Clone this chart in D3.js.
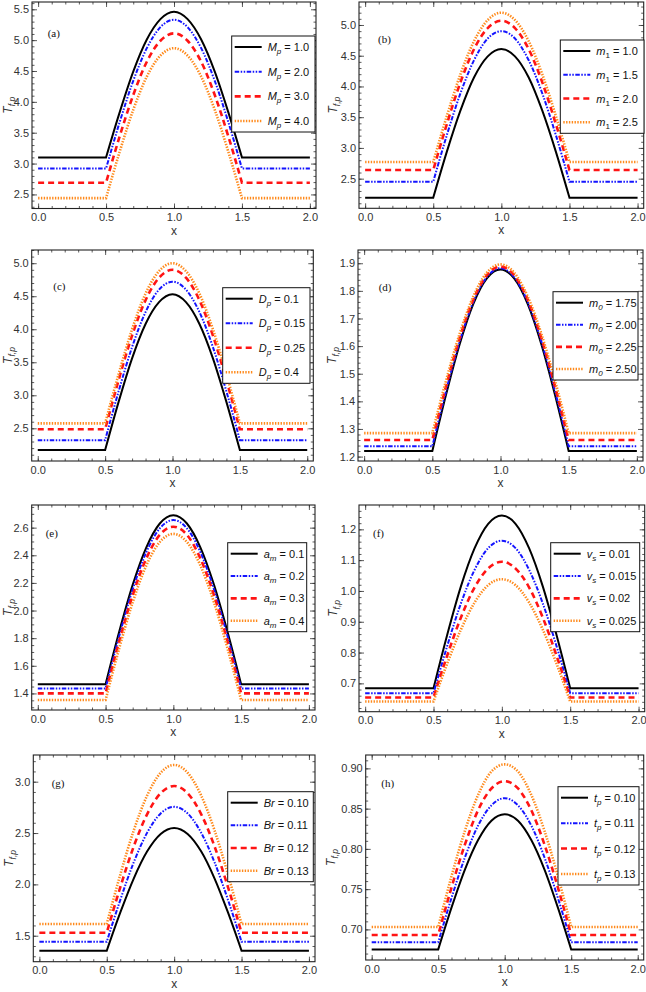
<!DOCTYPE html>
<html><head><meta charset="utf-8">
<script src="https://cdn.jsdelivr.net/npm/d3@7"></script>
<style>body{margin:0;background:#fff}</style>
</head><body>
<svg id="chart" width="646" height="992"></svg>
<script>
// ---------- DATA ----------
const xVals = [0, 0.5, 0.6, 0.7, 0.8, 0.9, 1.0, 1.1, 1.2, 1.3, 1.4, 1.5, 2.0];
const xTicks = [0, 0.5, 1.0, 1.5, 2.0];

const valuesA = [
 [3.10, 3.10, 3.83, 4.49, 5.01, 5.34, 5.46, 5.34, 5.01, 4.49, 3.83, 3.10, 3.10],
 [2.92, 2.92, 3.67, 4.34, 4.87, 5.21, 5.33, 5.21, 4.87, 4.34, 3.67, 2.92, 2.92],
 [2.69, 2.69, 3.44, 4.11, 4.65, 4.99, 5.11, 4.99, 4.65, 4.11, 3.44, 2.69, 2.69],
 [2.44, 2.44, 3.19, 3.87, 4.41, 4.75, 4.87, 4.75, 4.41, 3.87, 3.19, 2.44, 2.44]];
const valuesB = [
 [2.19, 2.19, 2.94, 3.61, 4.15, 4.49, 4.61, 4.49, 4.15, 3.61, 2.94, 2.19, 2.19],
 [2.45, 2.45, 3.21, 3.89, 4.43, 4.78, 4.90, 4.78, 4.43, 3.89, 3.21, 2.45, 2.45],
 [2.64, 2.64, 3.39, 4.07, 4.61, 4.95, 5.07, 4.95, 4.61, 4.07, 3.39, 2.64, 2.64],
 [2.77, 2.77, 3.52, 4.20, 4.74, 5.08, 5.20, 5.08, 4.74, 4.20, 3.52, 2.77, 2.77]];
const valuesC = [
 [2.17, 2.17, 2.90, 3.56, 4.08, 4.41, 4.53, 4.41, 4.08, 3.56, 2.90, 2.17, 2.17],
 [2.32, 2.32, 3.06, 3.73, 4.26, 4.60, 4.72, 4.60, 4.26, 3.73, 3.06, 2.32, 2.32],
 [2.485, 2.485, 3.23, 3.905, 4.44, 4.78, 4.90, 4.78, 4.44, 3.905, 3.23, 2.485, 2.485],
 [2.575, 2.575, 3.32, 4.00, 4.54, 4.88, 5.00, 4.88, 4.54, 4.00, 3.32, 2.575, 2.575]];
const valuesD = [
 [1.220, 1.220, 1.423, 1.606, 1.752, 1.845, 1.877, 1.845, 1.752, 1.606, 1.423, 1.220, 1.220],
 [1.237, 1.237, 1.436, 1.616, 1.759, 1.850, 1.882, 1.850, 1.759, 1.616, 1.436, 1.237, 1.237],
 [1.260, 1.260, 1.454, 1.629, 1.768, 1.857, 1.888, 1.857, 1.768, 1.629, 1.454, 1.260, 1.260],
 [1.285, 1.285, 1.474, 1.644, 1.779, 1.866, 1.896, 1.866, 1.779, 1.644, 1.474, 1.285, 1.285]];
const valuesE = [
 [1.467, 1.467, 1.845, 2.186, 2.456, 2.630, 2.690, 2.630, 2.456, 2.186, 1.845, 1.467, 1.467],
 [1.436, 1.436, 1.813, 2.153, 2.422, 2.595, 2.655, 2.595, 2.422, 2.153, 1.813, 1.436, 1.436],
 [1.400, 1.400, 1.773, 2.110, 2.376, 2.548, 2.607, 2.548, 2.376, 2.110, 1.773, 1.400, 1.400],
 [1.352, 1.352, 1.724, 2.059, 2.325, 2.496, 2.555, 2.496, 2.325, 2.059, 1.724, 1.352, 1.352]];
const valuesF = [
 [0.684, 0.684, 0.857, 1.014, 1.138, 1.218, 1.245, 1.218, 1.138, 1.014, 0.857, 0.684, 0.684],
 [0.668, 0.668, 0.821, 0.959, 1.068, 1.139, 1.163, 1.139, 1.068, 0.959, 0.821, 0.668, 0.668],
 [0.654, 0.654, 0.790, 0.913, 1.011, 1.073, 1.095, 1.073, 1.011, 0.913, 0.790, 0.654, 0.654],
 [0.641, 0.641, 0.764, 0.874, 0.962, 1.019, 1.038, 1.019, 0.962, 0.874, 0.764, 0.641, 0.641]];
const valuesG = [
 [1.354, 1.354, 1.724, 2.057, 2.322, 2.491, 2.550, 2.491, 2.322, 2.057, 1.724, 1.354, 1.354],
 [1.441, 1.441, 1.847, 2.214, 2.504, 2.691, 2.755, 2.691, 2.504, 2.214, 1.847, 1.441, 1.441],
 [1.529, 1.529, 1.971, 2.369, 2.685, 2.888, 2.958, 2.888, 2.685, 2.369, 1.971, 1.529, 1.529],
 [1.614, 1.614, 2.093, 2.525, 2.867, 3.087, 3.163, 3.087, 2.867, 2.525, 2.093, 1.614, 1.614]];
const valuesH = [
 [0.675, 0.675, 0.727, 0.774, 0.811, 0.835, 0.843, 0.835, 0.811, 0.774, 0.727, 0.675, 0.675],
 [0.684, 0.684, 0.739, 0.789, 0.829, 0.854, 0.863, 0.854, 0.829, 0.789, 0.739, 0.684, 0.684],
 [0.693, 0.693, 0.752, 0.805, 0.848, 0.875, 0.884, 0.875, 0.848, 0.805, 0.752, 0.693, 0.693],
 [0.703, 0.703, 0.766, 0.822, 0.867, 0.896, 0.905, 0.896, 0.867, 0.822, 0.766, 0.703, 0.703]];

const ticksA = [2.5, 3.0, 3.5, 4.0, 4.5, 5.0, 5.5];
const ticksB = [2.5, 3.0, 3.5, 4.0, 4.5, 5.0];
const ticksC = [2.5, 3.0, 3.5, 4.0, 4.5, 5.0];
const ticksD = [1.2, 1.3, 1.4, 1.5, 1.6, 1.7, 1.8, 1.9];
const ticksE = [1.4, 1.6, 1.8, 2.0, 2.2, 2.4, 2.6];
const ticksF = [0.7, 0.8, 0.9, 1.0, 1.1, 1.2];
const ticksG = [1.5, 2.0, 2.5, 3.0];
const ticksH = [0.70, 0.75, 0.80, 0.85, 0.90];

const legendA = ["1.0", "2.0", "3.0", "4.0"];
const legendB = ["1.0", "1.5", "2.0", "2.5"];
const legendC = ["0.1", "0.15", "0.25", "0.4"];
const legendD = ["1.75", "2.00", "2.25", "2.50"];
const legendE = ["0.1", "0.2", "0.3", "0.4"];
const legendF = ["0.01", "0.015", "0.02", "0.025"];
const legendG = ["0.10", "0.11", "0.12", "0.13"];
const legendH = ["0.10", "0.11", "0.12", "0.13"];

const panelLetters = ["(a)", "(b)", "(c)", "(d)", "(e)", "(f)", "(g)", "(h)"];

// ---------- LAYOUT / STYLE ----------
const panels = [
 {vals: valuesA, ticks: ticksA, leg: legendA, sym: "M", sub: "p", subIt: true, fmt: ".1f", yl: 20,
  frame: [32, 2, 316, 208.5], ydom: [2.272, 5.618], minor: 0.1, box: [231.7, 36, 315, 132], lab: [47.7, 37]},
 {vals: valuesB, ticks: ticksB, leg: legendB, sym: "m", sub: "1", subIt: false, fmt: ".1f", yl: 22,
  frame: [359, 2, 643.7, 208.3], ydom: [2.018, 5.374], minor: 0.1, box: [560.3, 40, 644, 133.3], lab: [378, 43]},
 {vals: valuesC, ticks: ticksC, leg: legendC, sym: "D", sub: "p", subIt: true, fmt: ".1f", yl: 20,
  frame: [31.7, 250, 313.3, 461], ydom: [2.005, 5.2], minor: 0.1, box: [222.7, 287.7, 310, 383.3], lab: [53.3, 290]},
 {vals: valuesD, ticks: ticksD, leg: legendD, sym: "m", sub: "0", subIt: true, fmt: ".1f", yl: 22,
  frame: [358, 250, 643, 461], ydom: [1.184, 1.948], minor: 0.02, box: [553, 291.7, 638, 380], lab: [378.7, 291]},
 {vals: valuesE, ticks: ticksE, leg: legendE, sym: "a", sub: "m", subIt: true, fmt: ".1f", yl: 20,
  frame: [31.7, 505, 315, 710], ydom: [1.28, 2.764], minor: 0.05, box: [227.7, 542.7, 306.7, 631.7], lab: [45.7, 536.7]},
 {vals: valuesF, ticks: ticksF, leg: legendF, sym: "v", sub: "s", subIt: true, fmt: ".1f", yl: 22,
  frame: [359, 505, 644.7, 711.7], ydom: [0.608, 1.279], minor: 0.02, box: [550.7, 542.7, 639.7, 631.7], lab: [373, 536.7]},
 {vals: valuesG, ticks: ticksG, leg: legendG, sym: "Br", sub: null, subIt: true, fmt: ".1f", yl: 20,
  frame: [33.3, 755, 315, 961.7], ydom: [1.247, 3.26], minor: 0.1, box: [227.7, 791.7, 313.3, 881.7], lab: [51.7, 786.7]},
 {vals: valuesH, ticks: ticksH, leg: legendH, sym: "t", sub: "p", subIt: true, fmt: ".2f", yl: 31,
  frame: [365.7, 755, 643.7, 960], ydom: [0.662, 0.9166], minor: 0.01, box: [558, 786.7, 639, 885], lab: [381.3, 787.3]}
];

const styles = [
 {color: "#000000", width: 2.0, dash: null},
 {color: "#1414ff", width: 2.0, dash: "4.5 1.5 1.5 1.5 1.5 1.5"},
 {color: "#ff1414", width: 2.6, dash: "6 4"},
 {color: "#ff8a1c", width: 2.6, dash: "1.4 1.4"}
];

const FONT = "'Liberation Sans', Arial, sans-serif";
const svg = d3.select("#chart");

panels.forEach((p, pi) => {
  const [x0, y0, x1, y1] = p.frame;
  const x = d3.scaleLinear().domain([-0.045, 2.045]).range([x0, x1]);
  const y = d3.scaleLinear().domain(p.ydom).range([y1, y0]);
  const g = svg.append("g");

  const clipId = "clip" + pi;
  g.append("clipPath").attr("id", clipId).append("rect")
    .attr("x", x0).attr("y", y0).attr("width", x1 - x0).attr("height", y1 - y0);

  // minor ticks
  const eps = 1e-9;
  const yMinor = d3.range(Math.ceil(p.ydom[0] / p.minor - eps), Math.floor(p.ydom[1] / p.minor + eps) + 1)
    .map(k => +(k * p.minor).toFixed(4));
  const xMinor = d3.range(0, 21).map(k => +(k * 0.1).toFixed(2));

  const styleAxis = sel => {
    sel.select(".domain").remove();
    sel.selectAll("line").attr("stroke", "#333").attr("stroke-width", 0.8);
    sel.selectAll("text").attr("fill", "#333").style("font-family", FONT).style("font-size", "11px");
  };

  // bottom
  g.append("g").attr("transform", `translate(0,${y1})`)
    .call(d3.axisBottom(x).tickValues(xMinor).tickSizeInner(-2.5).tickSizeOuter(0).tickFormat(""))
    .call(styleAxis);
  g.append("g").attr("transform", `translate(0,${y1})`)
    .call(d3.axisBottom(x).tickValues(xTicks).tickSizeInner(-5).tickSizeOuter(0).tickPadding(5).tickFormat(d3.format(".1f")))
    .call(styleAxis);
  // top
  g.append("g").attr("transform", `translate(0,${y0})`)
    .call(d3.axisTop(x).tickValues(xMinor).tickSizeInner(-2.5).tickSizeOuter(0).tickFormat(""))
    .call(styleAxis);
  g.append("g").attr("transform", `translate(0,${y0})`)
    .call(d3.axisTop(x).tickValues(xTicks).tickSizeInner(-5).tickSizeOuter(0).tickFormat(""))
    .call(styleAxis);
  // left
  g.append("g").attr("transform", `translate(${x0},0)`)
    .call(d3.axisLeft(y).tickValues(yMinor).tickSizeInner(-2.5).tickSizeOuter(0).tickFormat(""))
    .call(styleAxis);
  g.append("g").attr("transform", `translate(${x0},0)`)
    .call(d3.axisLeft(y).tickValues(p.ticks).tickSizeInner(-5).tickSizeOuter(0).tickPadding(3).tickFormat(d3.format(p.fmt)))
    .call(styleAxis);
  // right
  g.append("g").attr("transform", `translate(${x1},0)`)
    .call(d3.axisRight(y).tickValues(yMinor).tickSizeInner(-2.5).tickSizeOuter(0).tickFormat(""))
    .call(styleAxis);
  g.append("g").attr("transform", `translate(${x1},0)`)
    .call(d3.axisRight(y).tickValues(p.ticks).tickSizeInner(-5).tickSizeOuter(0).tickFormat(""))
    .call(styleAxis);

  // curves
  const cg = g.append("g").attr("clip-path", `url(#${clipId})`);
  const hump = d3.line().x(d => x(d[0])).y(d => y(d[1])).curve(d3.curveMonotoneX);
  p.vals.forEach((vals, si) => {
    const pts = xVals.map((xv, i) => [xv, vals[i]]);
    const mid = pts.slice(1, pts.length - 1);
    const first = pts[0], last = pts[pts.length - 1];
    const d = `M${x(first[0])},${y(first[1])}` + hump(mid).replace(/^M/, "L") + `L${x(last[0])},${y(last[1])}`;
    const st = styles[si];
    cg.append("path").attr("d", d).attr("fill", "none")
      .attr("stroke", st.color).attr("stroke-width", st.width)
      .attr("stroke-dasharray", st.dash);
  });

  // frame
  g.append("rect").attr("x", x0).attr("y", y0).attr("width", x1 - x0).attr("height", y1 - y0)
    .attr("fill", "none").attr("stroke", "#222").attr("stroke-width", 1.1);

  // axis labels
  g.append("text").attr("x", (x0 + x1) / 2).attr("y", y1 + 26).attr("text-anchor", "middle")
    .style("font-family", FONT).style("font-size", "12px").attr("fill", "#333").text("x");
  const yl = g.append("text").attr("transform", `translate(${x0 - p.yl},${(y0 + y1) / 2}) rotate(-90)`)
    .attr("text-anchor", "middle").style("font-family", FONT).attr("fill", "#333");
  yl.append("tspan").style("font-style", "italic").style("font-size", "12px").text("T");
  yl.append("tspan").style("font-style", "italic").style("font-size", "8.5px").attr("dy", 3).text("f,p");

  // panel letter
  g.append("text").attr("x", p.lab[0]).attr("y", p.lab[1])
    .style("font-family", "'Liberation Serif', 'Times New Roman', serif").style("font-size", "11px")
    .attr("fill", "#111").text(panelLetters[pi]);

  // legend
  const [bx0, by0, bx1, by1] = p.box;
  const lg = g.append("g");
  lg.append("rect").attr("x", bx0).attr("y", by0).attr("width", bx1 - bx0).attr("height", by1 - by0)
    .attr("fill", "#fff").attr("stroke", "#111").attr("stroke-width", 1);
  const rowY = d3.scaleLinear().domain([0, 3]).range([by0 + 11, by1 - 11]);
  p.leg.forEach((lab, si) => {
    const ry = rowY(si);
    const st = styles[si];
    lg.append("line").attr("x1", bx0 + 3).attr("x2", bx0 + 30).attr("y1", ry).attr("y2", ry)
      .attr("stroke", st.color).attr("stroke-width", st.width).attr("stroke-dasharray", st.dash);
    const t = lg.append("text").attr("x", bx0 + 36).attr("y", ry + 4)
      .style("font-family", FONT).style("font-size", "11px").attr("fill", "#111");
    t.append("tspan").style("font-style", "italic").text(p.sym);
    if (p.sub) {
      t.append("tspan").style("font-style", p.subIt ? "italic" : "normal").style("font-size", "8px")
        .attr("dy", 3).text(p.sub);
      t.append("tspan").attr("dy", -3).text(" = " + lab);
    } else {
      t.append("tspan").text(" = " + lab);
    }
  });
});
</script>
</body></html>
